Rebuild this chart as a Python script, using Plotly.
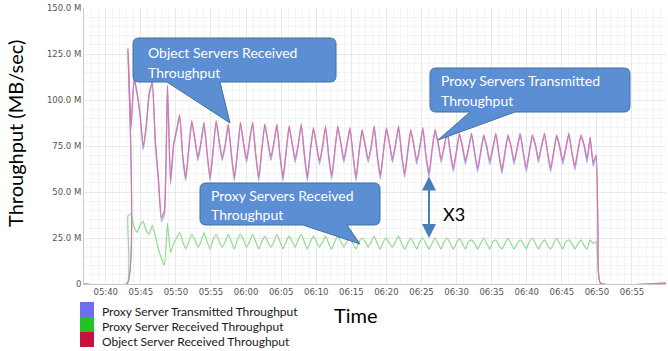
import plotly.graph_objects as go
import pandas as pd

# ---------------- data ----------------
DAY = "2020-01-01 "
prefix_times = ["05:36:00", "05:43:04"]
active_start = "05:43:10"
active_step_s = 26
suffix_times = ["06:50:10", "06:50:30", "07:00:00"]

object_prefix = [0.4, 0.4]
object_active = [
    128, 86, 112, 104, 92, 75, 86, 104, 110, 78, 58, 36, 40, 108, 56, 76, 84,
    92, 70, 58, 74, 89, 79, 69, 77,
    88, 72, 58, 73, 89, 78, 69, 76,
    87, 71, 58, 72, 88, 77, 68, 78,
    88, 71, 58, 73, 87, 78, 69, 77,
    87, 70, 58, 72, 86, 77, 68, 76,
    87, 71, 58, 73, 85, 76, 67, 75,
    86, 70, 59, 72, 86, 77, 68, 76,
    85, 71, 58, 72, 84, 76, 68, 75,
    86, 70, 59, 72, 85, 77, 68, 76,
    86, 71, 60, 72, 84, 76, 67, 75,
    85, 70, 60, 73, 84, 77, 68, 75,
    83, 72, 63, 72, 82, 75, 67, 74,
    82, 72, 63, 72, 81, 75, 67, 74,
    82, 71, 62, 72, 81, 75, 67, 74,
    82, 72, 63, 72, 81, 76, 68, 75,
    82, 72, 63, 72, 81, 75, 67, 74,
    82, 72, 64, 73, 81, 76, 68, 80,
    66, 70,
]
object_suffix = [26, 0.6, 0.6]

proxy_tx_prefix = [0.3, 0.3]
proxy_tx_active = [
    127, 84, 111, 103, 91, 73, 85, 103, 109, 76, 56, 34, 38, 107, 54, 75, 83,
    91, 69, 56, 73, 88, 78, 67, 76,
    87, 71, 56, 72, 88, 77, 67, 75,
    86, 70, 56, 71, 87, 76, 66, 77,
    87, 70, 56, 72, 86, 77, 67, 76,
    86, 69, 56, 71, 85, 76, 66, 75,
    86, 70, 56, 72, 84, 75, 65, 74,
    85, 69, 57, 71, 85, 76, 66, 75,
    84, 70, 56, 71, 83, 75, 66, 74,
    85, 69, 57, 71, 84, 76, 66, 75,
    85, 70, 58, 71, 83, 75, 65, 74,
    84, 69, 58, 72, 83, 76, 66, 74,
    82, 71, 61, 71, 81, 74, 65, 73,
    81, 71, 61, 71, 80, 74, 65, 73,
    81, 70, 60, 71, 80, 74, 65, 73,
    81, 71, 61, 71, 80, 75, 66, 74,
    81, 71, 61, 71, 80, 74, 65, 73,
    81, 71, 62, 72, 80, 75, 66, 79,
    64, 69,
]
proxy_tx_suffix = [25, 0.5, 0.5]

proxy_rx_prefix = [0.2, 0.2]
proxy_rx_active = [
    37, 38, 31, 28, 32, 34, 29, 27, 32, 26, 19, 14, 10, 33, 17, 22, 25,
    28, 23, 19, 23, 27, 24, 20, 23,
    28, 23, 19, 24, 27, 23, 20, 23,
    27, 23, 19, 24, 27, 24, 20, 23,
    27, 23, 19, 23, 26, 23, 20, 23,
    27, 23, 19, 23, 26, 23, 20, 24,
    27, 23, 19, 23, 26, 23, 20, 23,
    26, 22, 19, 23, 26, 23, 20, 23,
    26, 22, 19, 23, 25, 23, 20, 23,
    26, 22, 19, 23, 25, 22, 20, 23,
    26, 22, 19, 22, 25, 22, 19, 23,
    25, 22, 19, 22, 25, 22, 19, 23,
    25, 22, 19, 22, 25, 22, 19, 23,
    24, 22, 19, 22, 25, 22, 19, 23,
    24, 21, 19, 22, 25, 22, 19, 22,
    24, 22, 19, 23, 25, 22, 19, 22,
    24, 21, 19, 22, 25, 22, 19, 23,
    24, 22, 19, 22, 24, 21, 19, 24,
    22, 23,
]
proxy_rx_suffix = [12, 0.3, 0.3]

y_tick_values = [0, 25, 50, 75, 100, 125, 150]
y_tick_labels = ["0", "25.0 M", "50.0 M", "75.0 M", "100.0 M", "125.0 M", "150.0 M"]
legend_labels = ["Proxy Server Transmitted Throughput",
                 "Proxy Server Received Throughput",
                 "Object Server Received Throughput"]

# ---------------- time axis values ----------------
active_times = pd.date_range(DAY + active_start, periods=len(object_active),
                             freq=f"{active_step_s}s")
times = ([pd.Timestamp(DAY + t) for t in prefix_times] + list(active_times)
         + [pd.Timestamp(DAY + t) for t in suffix_times])

obj = object_prefix + object_active + object_suffix
ptx = proxy_tx_prefix + proxy_tx_active + proxy_tx_suffix
prx = proxy_rx_prefix + proxy_rx_active + proxy_rx_suffix

# ---------------- layout geometry ----------------
W, H = 668, 351
L, R, T, B = 84, 2, 8, 67
PW, PH = W - L - R, H - T - B


def px(x):
    return (x - L) / PW


def py(y):
    return (H - B - y) / PH


fig = go.Figure()
fig.add_trace(go.Scatter(x=times, y=ptx, mode="lines",
                         line=dict(color="#a8aaf0", width=1.3, shape="spline",
                                   smoothing=0.4), showlegend=False))
fig.add_trace(go.Scatter(x=times, y=prx, mode="lines",
                         line=dict(color="#92da92", width=1.2, shape="spline",
                                   smoothing=0.4), showlegend=False))
fig.add_trace(go.Scatter(x=times, y=obj, mode="lines",
                         line=dict(color="#d678a5", width=1.2, shape="spline",
                                   smoothing=0.4), showlegend=False))

shapes = []
annotations = []

BOX_FILL = "#5b8ed3"
BOX_LINE = "#41719c"


def callout(x0, y0, x1, y1, bx0, bx1, tx, ty, r=6):
    d = f"M {px(x0 + r)},{py(y0)} L {px(x1 - r)},{py(y0)} "
    d += f"Q {px(x1)},{py(y0)} {px(x1)},{py(y0 + r)} "
    d += f"L {px(x1)},{py(y1 - r)} Q {px(x1)},{py(y1)} {px(x1 - r)},{py(y1)} "
    d += f"L {px(bx1)},{py(y1)} L {px(tx)},{py(ty)} L {px(bx0)},{py(y1)} "
    d += f"L {px(x0 + r)},{py(y1)} Q {px(x0)},{py(y1)} {px(x0)},{py(y1 - r)} "
    d += f"L {px(x0)},{py(y0 + r)} Q {px(x0)},{py(y0)} {px(x0 + r)},{py(y0)} Z"
    return dict(type="path", path=d, xref="paper", yref="paper",
                fillcolor=BOX_FILL, line=dict(color=BOX_LINE, width=1),
                layer="above")


shapes.append(callout(133, 38, 336, 82, 167, 220, 230, 123))
shapes.append(callout(430, 68, 630, 112, 470, 515, 438, 140))
shapes.append(callout(200, 183, 380, 225, 303, 347, 360, 244))


def text(x, y, s, size=14, color="white", xanchor="left", font="Lato", angle=0):
    annotations.append(dict(x=px(x), y=py(y), xref="paper", yref="paper",
                            text=s, showarrow=False, xanchor=xanchor,
                            yanchor="middle", textangle=angle,
                            font=dict(family=font, size=size, color=color)))


text(146, 52, "Object Servers Received")
text(146, 72, "Throughput")
text(439, 80, "Proxy Servers Transmitted")
text(439, 100, "Throughput")
text(209, 195, "Proxy Servers Received")
text(209, 214, "Throughput")
text(454, 214, "X3", size=18, color="black", xanchor="center")

# double arrow
annotations.append(dict(x=px(429), y=py(238), xref="paper", yref="paper",
                        ax=0, ay=-63, text="", showarrow=True,
                        arrowside="end+start", arrowhead=2, startarrowhead=2,
                        arrowsize=1.4, startarrowsize=1.4, arrowwidth=2,
                        arrowcolor="#4a7ebb"))

# axis titles
text(15, 134, "Throughput (MB/sec)", size=20, color="black",
     xanchor="center", angle=-90)
text(356, 315, "Time", size=20, color="black", xanchor="center")

# legend
legend_colors = ["#6e6ef2", "#22c322", "#c8103a"]
for k, (lab, col) in enumerate(zip(legend_labels, legend_colors)):
    top = 302 + 15 * k
    shapes.append(dict(type="rect", xref="paper", yref="paper",
                       x0=px(80), x1=px(94), y0=py(top), y1=py(top + 15),
                       fillcolor=col, line=dict(width=0)))
    text(100, 311 + 15 * k, lab, size=12, color="#1a1a1a")

fig.update_layout(
    width=W, height=H,
    margin=dict(l=L, r=R, t=T, b=B, pad=0),
    paper_bgcolor="white", plot_bgcolor="white",
    shapes=shapes, annotations=annotations,
    xaxis=dict(type="date",
               range=[DAY + "05:36:54", DAY + "06:59:51"],
               tick0=DAY + "05:40", dtick=300000, tickformat="%H:%M",
               showgrid=True, gridcolor="#e9e9e9", gridwidth=1,
               minor=dict(dtick=60000, showgrid=True, gridcolor="#f4f4f4"),
               showline=True, linecolor="#c8c8c8", linewidth=1,
               ticks="", zeroline=False,
               tickfont=dict(family="DejaVu Sans", size=8.5, color="#555")),
    yaxis=dict(range=[0, 150], tickvals=y_tick_values, ticktext=y_tick_labels,
               showgrid=True, gridcolor="#e9e9e9", gridwidth=1,
               minor=dict(dtick=5, showgrid=True, gridcolor="#f4f4f4"),
               showline=True, linecolor="#c8c8c8", linewidth=1,
               ticks="", zeroline=False,
               tickfont=dict(family="DejaVu Sans", size=8.5, color="#555")),
)

fig.write_html("out.html")
